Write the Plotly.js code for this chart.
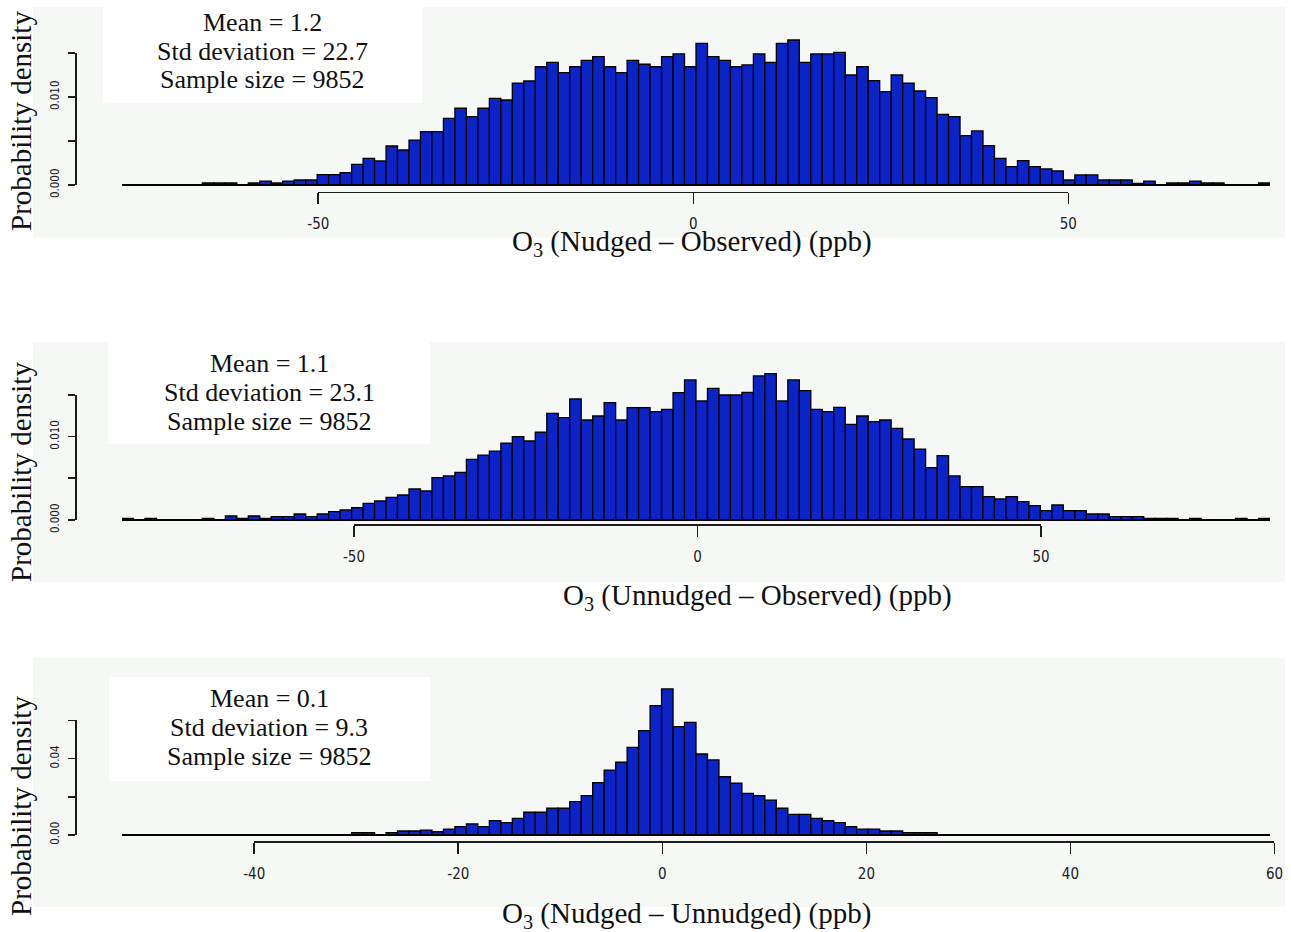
<!DOCTYPE html>
<html><head><meta charset="utf-8">
<script src="https://cdn.plot.ly/plotly-3.0.1.min.js"></script>
<style>html,body{margin:0;padding:0;background:#fff}#chart{width:1291px;height:932px}</style>
</head><body><div id="chart"></div>
<script>
// ---------------- data ----------------
// Panel A: O3 (Nudged - Observed)
const binStartA = -76.17, binWidthA = 1.5306;
const densityA = [
 0,0,0,0,0,0,0,0.00023,0.00023,0.00023,
 0,0.00023,0.00045,0.00023,0.00045,0.00057,0.00057,0.00117,0.00117,0.00140,
 0.00235,0.00303,0.00273,0.00443,0.00398,0.00511,0.00606,0.00606,0.00758,0.00872,
 0.00776,0.00872,0.00985,0.00966,0.01156,0.01182,0.01344,0.01394,0.01276,0.01344,
 0.01417,0.01458,0.01344,0.01276,0.01417,0.01372,0.01344,0.01458,0.01489,0.01344,
 0.01610,0.01458,0.01417,0.01344,0.01364,0.01489,0.01394,0.01610,0.01648,0.01394,
 0.01489,0.01489,0.01508,0.01250,0.01344,0.01185,0.01060,0.01250,0.01156,0.01068,
 0.00992,0.00803,0.00776,0.00560,0.00614,0.00447,0.00303,0.00208,0.00276,0.00208,
 0.00182,0.00159,0.00057,0.00114,0.00114,0.00057,0.00057,0.00057,0.00019,0.00045,
 0,0.00023,0.00023,0.00045,0.00023,0.00023,0,0,0,0.00023
];
// Panel B: O3 (Unnudged - Observed)
const binStartB = -83.77, binWidthB = 1.671;
const densityB = [
 0.00020,0,0.00020,0,0,0,0,0.00020,0,0.00048,
 0.00020,0.00048,0.00020,0.00040,0.00040,0.00072,0.00040,0.00072,0.00100,0.00120,
 0.00147,0.00200,0.00228,0.00272,0.00300,0.00372,0.00348,0.00507,0.00528,0.00572,
 0.00728,0.00779,0.00827,0.00920,0.00999,0.00947,0.01052,0.01279,0.01227,0.01451,
 0.01199,0.01247,0.01407,0.01199,0.01347,0.01347,0.01299,0.01327,0.01527,0.01679,
 0.01427,0.01579,0.01499,0.01499,0.01531,0.01727,0.01755,0.01427,0.01679,0.01551,
 0.01327,0.01299,0.01351,0.01147,0.01247,0.01179,0.01199,0.01099,0.00971,0.00851,
 0.00628,0.00771,0.00528,0.00400,0.00400,0.00280,0.00252,0.00280,0.00220,0.00172,
 0.00112,0.00180,0.00112,0.00112,0.00072,0.00072,0.00040,0.00040,0.00040,0.00020,
 0.00020,0.00020,0,0.00020,0,0,0,0.00020,0,0.00020
];
// Panel C: O3 (Nudged - Unnudged)
const binStartC = -52.96, binWidthC = 1.1252;
const densityC = [
 0,0,0,0,0,0,0,0,0,0,
 0,0,0,0,0,0,0,0,0,0,
 0.0012,0.0012,0,0.0012,0.0021,0.0021,0.0026,0.0017,0.0030,0.0044,
 0.0058,0.0044,0.0075,0.0065,0.0087,0.0119,0.0119,0.0140,0.0140,0.0175,
 0.0206,0.0274,0.0340,0.0381,0.0459,0.0546,0.0677,0.0765,0.0567,0.0590,
 0.0424,0.0393,0.0305,0.0271,0.0218,0.0206,0.0183,0.0140,0.0108,0.0108,
 0.0087,0.0075,0.0065,0.0044,0.0031,0.0031,0.0021,0.0021,0.0012,0.0012,
 0.0012,0,0,0,0,0,0,0,0,0,
 0,0,0,0,0,0,0,0,0,0,
 0,0,0,0,0,0,0,0,0,0
];
const xTickValsAB = [-50, 0, 50];
const xTickTextAB = ['-50', '0', '50'];
const xTickValsC = [-40, -20, 0, 20, 40, 60];
const xTickTextC = ['-40', '-20', '0', '20', '40', '60'];
const yTickValsAB = [0, 0.010];
const yTickTextAB = ['0.000', '0.010'];
const yMinorTicksAB = [0.005, 0.015];
const yTickValsC = [0, 0.04];
const yTickTextC = ['0.00', '0.04'];
const yMinorTicksC = [0.02, 0.06];
const xTitles = ['O<sub>3</sub> (Nudged – Observed) (ppb)',
                 'O<sub>3</sub> (Unnudged – Observed) (ppb)',
                 'O<sub>3</sub> (Nudged – Unnudged) (ppb)'];
const yTitle = 'Probability density';
const statMean = ['1.2', '1.1', '0.1'];
const statSD = ['22.7', '23.1', '9.3'];
const statN = ['9852', '9852', '9852'];

// ---------------- layout geometry (pixels) ----------------
const W = 1291, H = 932;
const BIN_L = 122, BIN_R = 1270;
const BAR_COLOR = '#0b23c7';
const AX_COLOR = '#1c1c1c';
const SERIF = '"Liberation Serif", "Times New Roman", Times, serif';
const NARROW = '"Liberation Sans Narrow", "DejaVu Sans Condensed", "Arial Narrow", sans-serif';

const panels = [
  {bs: binStartA, bw: binWidthA, d: densityA, baseY: 185, topY: 7, pxPerY: 8800, xAxisY: 191.7,
   xtv: xTickValsAB, xtt: xTickTextAB, ytv: yTickValsAB, ytt: yTickTextAB, ymv: yMinorTicksAB,
   bg: [33, 7, 1285, 237.5], box: [103, 7, 422, 103], statX: 262, statY: [22, 51, 80],
   xTitleX: 692, xTitleY: 243, yTitleY: 121},
  {bs: binStartB, bw: binWidthB, d: densityB, baseY: 520, topY: 342, pxPerY: 8340, xAxisY: 524,
   xtv: xTickValsAB, xtt: xTickTextAB, ytv: yTickValsAB, ytt: yTickTextAB, ymv: yMinorTicksAB,
   bg: [33, 342, 1285, 582], box: [108, 342, 430, 444], statX: 269, statY: [363, 392, 421],
   xTitleX: 757, xTitleY: 597, yTitleY: 472},
  {bs: binStartC, bw: binWidthC, d: densityC, baseY: 835, topY: 658, pxPerY: 1910, xAxisY: 841,
   xtv: xTickValsC, xtt: xTickTextC, ytv: yTickValsC, ytt: yTickTextC, ymv: yMinorTicksC,
   bg: [33, 658, 1285, 907], box: [109, 677, 430, 781], statX: 269, statY: [698, 727, 756],
   xTitleX: 686, xTitleY: 915, yTitleY: 806}
];
const Y_AXIS_X = 76.7;

const fx = p => p / W;
const fy = p => 1 - p / H;

const traces = [];
const layout = {
  width: W, height: H,
  margin: {l: 0, r: 0, t: 0, b: 0},
  paper_bgcolor: '#ffffff',
  plot_bgcolor: 'rgba(0,0,0,0)',
  showlegend: false,
  shapes: [],
  annotations: []
};

panels.forEach((P, i) => {
  const n = P.d.length;
  const xEnd = P.bs + n * P.bw;
  const pxOf = x => BIN_L + (x - P.bs) / (xEnd - P.bs) * (BIN_R - BIN_L);
  const a1 = 3 * i + 1, a2 = 3 * i + 2, a3 = 3 * i + 3;
  const xn = k => k === 1 ? 'xaxis' : 'xaxis' + k;
  const yn = k => k === 1 ? 'yaxis' : 'yaxis' + k;
  const xr = k => k === 1 ? 'x' : 'x' + k;
  const yr = k => k === 1 ? 'y' : 'y' + k;

  // main histogram subplot
  const pad = 5;
  layout[xn(a1)] = {domain: [fx(BIN_L), fx(BIN_R)], range: [P.bs, xEnd], visible: false,
                    fixedrange: true, anchor: yr(a1)};
  layout[yn(a1)] = {domain: [fy(P.baseY + pad), fy(P.topY)],
                    range: [-pad / P.pxPerY, (P.baseY - P.topY) / P.pxPerY],
                    visible: false, fixedrange: true, anchor: xr(a1)};
  traces.push({type: 'scatter', mode: 'lines', x: [P.bs, xEnd], y: [0, 0],
               xaxis: xr(a1), yaxis: yr(a1), line: {color: '#000', width: 2},
               hoverinfo: 'skip'});
  traces.push({type: 'bar', x: P.d.map((_, k) => P.bs + (k + 0.5) * P.bw), y: P.d,
               width: P.bw, xaxis: xr(a1), yaxis: yr(a1),
               marker: {color: BAR_COLOR, line: {color: '#000', width: 1.3}}});

  // y-axis subplot
  const yTop = Math.max(P.ytv[P.ytv.length - 1], P.ymv[P.ymv.length - 1]);
  layout[xn(a2)] = {domain: [fx(Y_AXIS_X), fx(Y_AXIS_X) + 0.002], range: [0, 1], visible: false,
                    fixedrange: true, anchor: yr(a2)};
  layout[yn(a2)] = {domain: [fy(P.baseY), fy(P.baseY - yTop * P.pxPerY)], range: [0, yTop],
                    anchor: xr(a2), side: 'left', showline: true, linecolor: AX_COLOR, linewidth: 1.6,
                    ticks: 'outside', ticklen: 7, tickwidth: 1.6, tickcolor: AX_COLOR,
                    tickmode: 'array', tickvals: P.ytv, ticktext: P.ytt, tickangle: -90,
                    minor: {tickmode: 'array', tickvals: P.ymv, ticks: 'outside', ticklen: 7,
                            tickwidth: 1.6, tickcolor: AX_COLOR, showgrid: false},
                    tickfont: {family: NARROW, size: 11.5, color: '#222'}, ticklabelstandoff: 5,
                    showgrid: false, zeroline: false, fixedrange: true};
  traces.push({type: 'scatter', x: [], y: [], xaxis: xr(a2), yaxis: yr(a2), hoverinfo: 'skip'});

  // x-axis subplot
  const xt0 = P.xtv[0], xt1 = P.xtv[P.xtv.length - 1];
  layout[xn(a3)] = {domain: [fx(pxOf(xt0)), fx(pxOf(xt1))], range: [xt0, xt1], anchor: yr(a3),
                    side: 'bottom', showline: true, linecolor: AX_COLOR, linewidth: 1.6,
                    ticks: 'outside', ticklen: 11, tickwidth: 1.6, tickcolor: AX_COLOR,
                    tickmode: 'array', tickvals: P.xtv, ticktext: P.xtt,
                    tickfont: {family: NARROW, size: 15, color: '#222'}, ticklabelstandoff: 7,
                    showgrid: false, zeroline: false, fixedrange: true};
  layout[yn(a3)] = {domain: [fy(P.xAxisY), fy(P.xAxisY) + 0.003], range: [0, 1], visible: false,
                    fixedrange: true, anchor: xr(a3)};
  traces.push({type: 'scatter', x: [], y: [], xaxis: xr(a3), yaxis: yr(a3), hoverinfo: 'skip'});

  // backgrounds
  layout.shapes.push({type: 'rect', xref: 'paper', yref: 'paper', layer: 'below',
    x0: fx(P.bg[0]), x1: fx(P.bg[2]), y0: fy(P.bg[3]), y1: fy(P.bg[1]),
    fillcolor: '#f6f8f5', line: {width: 0}});
  layout.shapes.push({type: 'rect', xref: 'paper', yref: 'paper', layer: 'below',
    x0: fx(P.box[0]), x1: fx(P.box[2]), y0: fy(P.box[3]), y1: fy(P.box[1]),
    fillcolor: '#ffffff', line: {width: 0}});

  // stats text
  const lines = ['Mean = ' + statMean[i], 'Std deviation = ' + statSD[i], 'Sample size = ' + statN[i]];
  lines.forEach((t, j) => layout.annotations.push({xref: 'paper', yref: 'paper',
    x: fx(P.statX), y: fy(P.statY[j]), xanchor: 'center', yanchor: 'middle', showarrow: false,
    text: t, font: {family: SERIF, size: 26, color: '#111'}}));

  // axis titles
  layout.annotations.push({xref: 'paper', yref: 'paper', x: fx(P.xTitleX), y: fy(P.xTitleY),
    xanchor: 'center', yanchor: 'middle', showarrow: false, text: xTitles[i],
    font: {family: SERIF, size: 29, color: '#111'}});
  layout.annotations.push({xref: 'paper', yref: 'paper', x: fx(21), y: fy(P.yTitleY),
    xanchor: 'center', yanchor: 'middle', showarrow: false, text: yTitle, textangle: -90,
    font: {family: SERIF, size: 29, color: '#111'}});
});

Plotly.newPlot('chart', traces, layout, {displayModeBar: false, staticPlot: true});
</script></body></html>
